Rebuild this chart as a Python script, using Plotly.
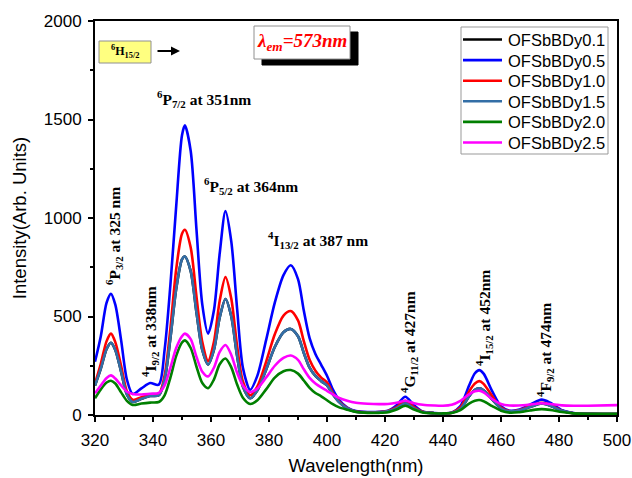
import plotly.graph_objects as go

# Excitation spectra (emission monitored at 573 nm) of OFSbBDy glasses
wavelength = [320, 322, 324, 325.5, 327, 329, 331, 333, 336, 339, 342, 344, 346, 348, 350, 351,
              353, 355, 357, 359, 361, 363, 365, 367, 369, 371, 373.5, 376, 379, 382, 385, 387.5,
              390, 392, 394, 396, 398, 400, 402, 404, 407, 410, 414, 418, 421, 424, 427, 430,
              433, 437, 440, 443, 446, 449, 451, 452.5, 454, 457, 460, 463, 466, 470, 474, 477,
              481, 485, 490, 500]

dy05 = [270, 400, 570, 615, 560, 380, 180, 107, 135, 162, 154, 330, 660, 1060, 1420, 1470,
        1340, 940, 560, 413, 530, 820, 1035, 880, 540, 240, 128, 200, 380, 570, 710, 760,
        690, 530, 390, 310, 255, 199, 130, 80, 38, 20, 15, 16, 22, 50, 93, 50,
        18, 10, 8, 12, 45, 150, 212, 228, 210, 120, 45, 22, 26, 52, 78, 62,
        25, 10, 6, 5]

dy10 = [160, 260, 375, 413, 370, 250, 120, 77, 90, 103, 106, 200, 440, 740, 920, 940,
        850, 600, 370, 275, 370, 580, 700, 590, 350, 170, 100, 145, 270, 410, 505, 528,
        480, 375, 280, 225, 190, 166, 112, 72, 35, 18, 14, 15, 20, 40, 72, 40,
        16, 9, 8, 11, 38, 120, 160, 172, 158, 95, 38, 20, 24, 44, 62, 50,
        22, 9, 6, 5]

dy15 = [150, 235, 335, 367, 330, 220, 105, 66, 82, 96, 100, 180, 390, 640, 790, 805,
        730, 520, 330, 256, 330, 495, 589, 500, 300, 145, 85, 125, 230, 345, 420, 437,
        400, 315, 240, 198, 172, 150, 105, 68, 33, 17, 13, 14, 19, 34, 60, 34,
        15, 9, 8, 11, 30, 95, 128, 135, 125, 78, 33, 19, 23, 40, 58, 47,
        21, 9, 6, 5]

# the 0.1 sample lies on top of the 1.5 sample over the whole range
dy01 = list(dy15)

dy20 = [85, 130, 165, 174, 160, 115, 72, 51, 58, 63, 66, 100, 190, 300, 368, 379,
        340, 245, 162, 136, 180, 258, 287, 242, 155, 88, 56, 75, 130, 190, 222, 228,
        210, 175, 138, 112, 95, 75, 55, 40, 27, 16, 11, 11, 14, 28, 47, 28,
        13, 9, 8, 10, 25, 58, 72, 76, 70, 45, 22, 12, 14, 23, 30, 26,
        15, 8, 6, 6]

dy25 = [110, 150, 188, 201, 185, 150, 118, 107, 104, 108, 112, 150, 240, 340, 400, 413,
        385, 295, 220, 196, 240, 320, 355, 305, 215, 150, 116, 135, 190, 250, 290, 302,
        280, 232, 188, 160, 140, 123, 105, 88, 72, 62, 57, 55, 56, 62, 72, 60,
        52, 48, 47, 52, 72, 105, 120, 123, 115, 80, 56, 48, 48, 53, 60, 56,
        49, 47, 47, 50]

series_names = ["OFSbBDy0.1", "OFSbBDy0.5", "OFSbBDy1.0", "OFSbBDy1.5", "OFSbBDy2.0", "OFSbBDy2.5"]
series_values = [dy01, dy05, dy10, dy15, dy20, dy25]
series_colors = ["#000000", "#0000ff", "#ff0000", "#336ea6", "#007f00", "#ff00ff"]

x_ticks = [320, 340, 360, 380, 400, 420, 440, 460, 480, 500]
y_ticks = [0, 500, 1000, 1500, 2000]

W, H = 632, 478
ML, MR, MT, MB = 95, 15, 21, 63
PW, PH = W - ML - MR, H - MT - MB


def paper(px, py):
    """Convert a page pixel position to paper coordinates."""
    return (px - ML) / PW, (H - MB - py) / PH


fig = go.Figure()
for name, vals, col in zip(series_names, series_values, series_colors):
    fig.add_trace(go.Scatter(
        x=wavelength, y=vals, name=name, mode="lines", showlegend=False,
        line=dict(color=col, width=2.6, shape="spline", smoothing=0.8),
    ))

serif = "Times New Roman, Liberation Serif, serif"
sans = "Arial, Liberation Sans, sans-serif"

# transition labels: (text, px, py, angle)
labels = [
    ("<b><sup>6</sup>P<sub>7/2</sub> at 351nm</b>", 204, 99, 0),
    ("<b><sup>6</sup>P<sub>5/2</sub> at 364nm</b>", 251, 186, 0),
    ("<b><sup>4</sup>I<sub>13/2</sub> at 387 nm</b>", 318, 240, 0),
    ("<b><sup>6</sup>P<sub>3/2</sub> at 325 nm</b>", 114, 236, -90),
    ("<b><sup>4</sup>I<sub>9/2</sub> at 338nm</b>", 150, 332, -90),
    ("<b><sup>4</sup>G<sub>11/2</sub> at 427nm</b>", 409, 342, -90),
    ("<b><sup>4</sup>I<sub>15/2</sub> at 452nm</b>", 484, 318, -90),
    ("<b><sup>4</sup>F<sub>9/2</sub> at 474nm</b>", 545, 350, -90),
]
annotations = []
for txt, px, py, ang in labels:
    xp, yp = paper(px, py)
    annotations.append(dict(text=txt, x=xp, y=yp, xref="paper", yref="paper",
                            xanchor="center", yanchor="middle",
                            showarrow=False, textangle=ang,
                            font=dict(family=serif, size=15.5, color="black")))

# ground state box and arrow
hx, hy = paper(125, 52)
annotations.append(dict(text="<b><sup>6</sup>H<sub>15/2</sub></b>", x=hx, y=hy,
                        xref="paper", yref="paper", xanchor="center", yanchor="middle",
                        showarrow=False,
                        font=dict(family=serif, size=12, color="black")))
ax_, ay_ = paper(180, 51)
annotations.append(dict(text="", x=ax_, y=ay_, xref="paper", yref="paper",
                        showarrow=True, ax=-24, ay=0, arrowhead=2, arrowsize=0.9,
                        arrowwidth=2, arrowcolor="black"))

# emission wavelength label
lx, ly = paper(302, 42)
annotations.append(dict(text="<b><i>λ<sub>em</sub>=573nm</i></b>", x=lx, y=ly,
                        xref="paper", yref="paper", xanchor="center", yanchor="middle",
                        showarrow=False,
                        font=dict(family=serif, size=19, color="#ff0000")))

shapes = []
x0, y0 = paper(99, 63)
x1, y1 = paper(151, 41)
shapes.append(dict(type="rect", xref="paper", yref="paper", x0=x0, y0=y0, x1=x1, y1=y1,
                   fillcolor="#ffff80", line=dict(color="#909090", width=1)))
x0, y0 = paper(262, 65)
x1, y1 = paper(358, 32)
shapes.append(dict(type="rect", xref="paper", yref="paper", x0=x0, y0=y0, x1=x1, y1=y1,
                   fillcolor="black", line=dict(color="black", width=1)))
x0, y0 = paper(254, 59)
x1, y1 = paper(350, 26)
shapes.append(dict(type="rect", xref="paper", yref="paper", x0=x0, y0=y0, x1=x1, y1=y1,
                   fillcolor="white", line=dict(color="#909090", width=1)))

# legend box with one line sample and name per series
x0, y0 = paper(461, 154)
x1, y1 = paper(608, 27)
shapes.append(dict(type="rect", xref="paper", yref="paper", x0=x0, y0=y0, x1=x1, y1=y1,
                   fillcolor="white", line=dict(color="#999999", width=1)))
for i, (name, col) in enumerate(zip(series_names, series_colors)):
    row_y = 39.5 + 20.6 * i
    sx0, sy = paper(463, row_y)
    sx1, _ = paper(502, row_y)
    shapes.append(dict(type="line", xref="paper", yref="paper", x0=sx0, y0=sy, x1=sx1, y1=sy,
                       line=dict(color=col, width=2.6)))
    tx, ty = paper(506, row_y + 0.5)
    annotations.append(dict(text=name, x=tx, y=ty, xref="paper", yref="paper",
                            xanchor="left", yanchor="middle", showarrow=False,
                            font=dict(family=sans, size=16.5, color="black")))

fig.update_layout(
    width=W, height=H,
    margin=dict(l=ML, r=MR, t=MT, b=MB, pad=0, autoexpand=False),
    paper_bgcolor="white", plot_bgcolor="white",
    font=dict(family=sans, size=17, color="black"),
    showlegend=False,
    annotations=annotations,
    shapes=shapes,
    xaxis=dict(range=[320, 500], tickvals=x_ticks, ticks="outside", ticklen=5, tickwidth=2,
               tickcolor="black", showline=True, linewidth=2, linecolor="black", mirror=True,
               showgrid=False, zeroline=False, automargin=False, ticklabelstandoff=4,
               minor=dict(dtick=10, ticks="outside", ticklen=3, tickwidth=2, tickcolor="black"),
               title=dict(text="Wavelength(nm)", font=dict(family=sans, size=18.5), standoff=10),
               tickfont=dict(family=sans, size=17)),
    yaxis=dict(range=[0, 2000], tickvals=y_ticks, ticks="outside", ticklen=5, tickwidth=2,
               tickcolor="black", showline=True, linewidth=2, linecolor="black", mirror=True,
               showgrid=False, zeroline=False, automargin=False, ticklabelstandoff=3,
               minor=dict(dtick=250, ticks="outside", ticklen=3, tickwidth=2, tickcolor="black"),
               title=dict(text="Intensity(Arb. Units)", font=dict(family=sans, size=18.5), standoff=12),
               tickfont=dict(family=sans, size=17)),
)

fig.write_html("out.html")
